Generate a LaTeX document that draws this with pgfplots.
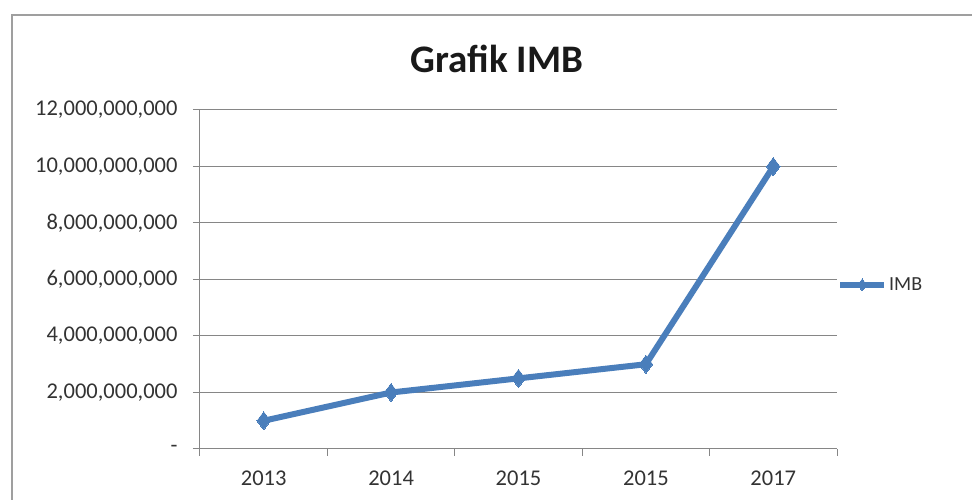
\documentclass[border=0pt]{standalone}
\usepackage{pgfplots}
\pgfplotsset{compat=1.18}
\usepackage{fontspec}
\setmainfont{Carlito}
\definecolor{xlblue}{HTML}{4A7EBB}
\definecolor{gridgray}{HTML}{868686}
\definecolor{txt}{HTML}{333333}
\begin{document}
\begin{tikzpicture}[x=1pt,y=1pt]
\path[use as bounding box] (0,0) rectangle (972,500);
\fill[white] (0,0) rectangle (972,500);
\draw[gray!75, line width=2.5pt] (12,-5) -- (12,485) -- (980,485);
\node[font=\fontsize{39}{44}\selectfont\bfseries, text=black!90] at (497,441) {Grafik IMB};
\begin{axis}[
  at={(200pt,51pt)}, anchor=south west,
  scale only axis, width=637pt, height=339pt,
  xmin=0.5, xmax=5.5, ymin=0, ymax=12000000000,
  axis lines=left, axis line style={-, draw=gridgray, line width=1pt},
  xtick={0.5,1.5,2.5,3.5,4.5,5.5},
  xticklabels={2013,2014,2015,2015,2017},
  x tick label as interval,
  ytick={0,2000000000,4000000000,6000000000,8000000000,10000000000,12000000000},
  yticklabels={{-\hspace{12pt}},{2,000,000,000},{4,000,000,000},{6,000,000,000},{8,000,000,000},{10,000,000,000},{12,000,000,000}},
  scaled y ticks=false,
  tick align=outside, major tick length=7pt,
  tick style={draw=gridgray, line width=1pt},
  ymajorgrids, grid style={draw=gridgray, line width=1pt},
  ticklabel style={font=\fontsize{22.5}{26}\selectfont, text=txt},
  yticklabel style={xshift=-12pt},
  xticklabel style={yshift=-11pt},
  legend style={draw=none, fill=none, at={(1,0.484)}, anchor=west, font=\fontsize{20}{24}\selectfont, text=txt, inner xsep=0pt, cells={anchor=west}},
  legend image code/.code={\draw[#1, mark=none] (0pt,0pt) -- (44pt,0pt); \draw[#1, mark size=6pt] plot coordinates {(22pt,0pt)};},
  legend cell align=left,
  clip=false,
]
\addplot[color=xlblue, line width=6pt, mark=diamond*, mark size=9pt, mark options={line width=0pt, fill=xlblue}, line join=round] coordinates {
(1,1000000000) (2,2000000000) (3,2500000000) (4,3000000000) (5,10000000000)};
\addlegendentry{IMB}
\end{axis}
\end{tikzpicture}
\end{document}
